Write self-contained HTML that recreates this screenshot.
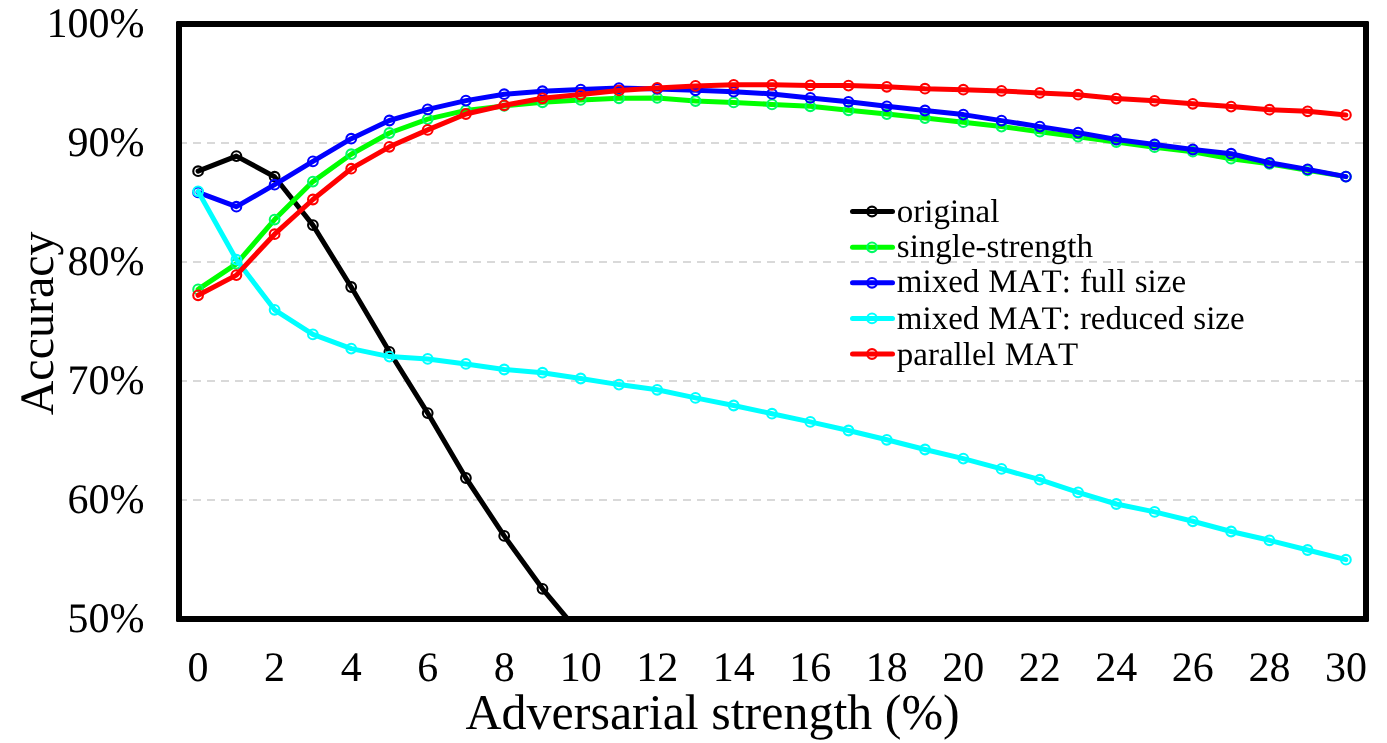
<!DOCTYPE html>
<html>
<head>
<meta charset="utf-8">
<title>Accuracy vs adversarial strength</title>
<style>
html,body{margin:0;padding:0;background:#ffffff;}
body{width:1387px;height:743px;overflow:hidden;font-family:"Liberation Serif",serif;}
svg{display:block;will-change:transform;}
text{font-family:"Liberation Serif",serif;fill:#000;font-kerning:none;font-variant-ligatures:none;text-rendering:geometricPrecision;}
.tick{font-size:42px;}
.leg{font-size:33px;word-spacing:0.8px;}
</style>
</head>
<body>
<svg width="1387" height="743" viewBox="0 0 1387 743">
<rect x="0" y="0" width="1387" height="743" fill="#ffffff"/>
<defs><clipPath id="plot"><rect x="179" y="24" width="1187" height="595"/></clipPath></defs>

<g stroke="#D9D9D9" stroke-width="2" stroke-dasharray="8 6" fill="none">
<line x1="179.0" y1="143.0" x2="1366.0" y2="143.0"/>
<line x1="179.0" y1="262.0" x2="1366.0" y2="262.0"/>
<line x1="179.0" y1="381.0" x2="1366.0" y2="381.0"/>
<line x1="179.0" y1="500.0" x2="1366.0" y2="500.0"/>
</g>
<g clip-path="url(#plot)" fill="none" stroke-linejoin="round" stroke-linecap="round">
<polyline points="198.1,171.2 236.4,156.1 274.6,176.7 312.9,225.1 351.2,287.0 389.4,351.8 427.7,413.1 465.9,478.0 504.2,535.9 542.5,588.8 580.7,634.5 619.0,688.0 657.2,738.0 695.5,785.6 733.7,833.2" stroke="#000000" stroke-width="5.0"/>
<g stroke="#000000" stroke-width="2.1">
<circle cx="198.1" cy="171.2" r="4.85"/>
<circle cx="236.4" cy="156.1" r="4.85"/>
<circle cx="274.6" cy="176.7" r="4.85"/>
<circle cx="312.9" cy="225.1" r="4.85"/>
<circle cx="351.2" cy="287.0" r="4.85"/>
<circle cx="389.4" cy="351.8" r="4.85"/>
<circle cx="427.7" cy="413.1" r="4.85"/>
<circle cx="465.9" cy="478.0" r="4.85"/>
<circle cx="504.2" cy="535.9" r="4.85"/>
<circle cx="542.5" cy="588.8" r="4.85"/>
</g>
<polyline points="198.1,289.4 236.4,263.8 274.6,219.6 312.9,181.6 351.2,154.2 389.4,133.0 427.7,119.1 465.9,110.4 504.2,105.9 542.5,102.3 580.7,99.9 619.0,98.3 657.2,97.9 695.5,101.0 733.7,102.4 772.0,104.4 810.3,106.3 848.5,110.3 886.8,114.1 925.0,118.1 963.3,122.2 1001.5,126.6 1039.8,131.7 1078.1,136.7 1116.3,142.0 1154.6,147.2 1192.8,151.7 1231.1,158.7 1269.4,163.8 1307.6,170.3 1345.9,176.6" stroke="#00FF00" stroke-width="5.0"/>
<g stroke="#00FA64" stroke-width="2.1">
<circle cx="198.1" cy="289.4" r="4.85"/>
<circle cx="236.4" cy="263.8" r="4.85"/>
<circle cx="274.6" cy="219.6" r="4.85"/>
<circle cx="312.9" cy="181.6" r="4.85"/>
<circle cx="351.2" cy="154.2" r="4.85"/>
<circle cx="389.4" cy="133.0" r="4.85"/>
<circle cx="427.7" cy="119.1" r="4.85"/>
<circle cx="465.9" cy="110.4" r="4.85"/>
<circle cx="504.2" cy="105.9" r="4.85"/>
<circle cx="542.5" cy="102.3" r="4.85"/>
<circle cx="580.7" cy="99.9" r="4.85"/>
<circle cx="619.0" cy="98.3" r="4.85"/>
<circle cx="657.2" cy="97.9" r="4.85"/>
<circle cx="695.5" cy="101.0" r="4.85"/>
<circle cx="733.7" cy="102.4" r="4.85"/>
<circle cx="772.0" cy="104.4" r="4.85"/>
<circle cx="810.3" cy="106.3" r="4.85"/>
<circle cx="848.5" cy="110.3" r="4.85"/>
<circle cx="886.8" cy="114.1" r="4.85"/>
<circle cx="925.0" cy="118.1" r="4.85"/>
<circle cx="963.3" cy="122.2" r="4.85"/>
<circle cx="1001.5" cy="126.6" r="4.85"/>
<circle cx="1039.8" cy="131.7" r="4.85"/>
<circle cx="1078.1" cy="136.7" r="4.85"/>
<circle cx="1116.3" cy="142.0" r="4.85"/>
<circle cx="1154.6" cy="147.2" r="4.85"/>
<circle cx="1192.8" cy="151.7" r="4.85"/>
<circle cx="1231.1" cy="158.7" r="4.85"/>
<circle cx="1269.4" cy="163.8" r="4.85"/>
<circle cx="1307.6" cy="170.3" r="4.85"/>
<circle cx="1345.9" cy="176.6" r="4.85"/>
</g>
<polyline points="198.1,192.4 236.4,206.7 274.6,184.7 312.9,161.4 351.2,138.7 389.4,120.5 427.7,109.4 465.9,100.6 504.2,94.2 542.5,91.2 580.7,89.6 619.0,88.1 657.2,88.9 695.5,90.3 733.7,91.7 772.0,93.9 810.3,97.9 848.5,101.8 886.8,106.3 925.0,110.5 963.3,114.6 1001.5,120.6 1039.8,126.6 1078.1,132.6 1116.3,139.5 1154.6,144.5 1192.8,149.5 1231.1,153.7 1269.4,162.8 1307.6,169.4 1345.9,176.6" stroke="#0000FF" stroke-width="5.0"/>
<g stroke="#0000FF" stroke-width="2.1">
<circle cx="198.1" cy="192.4" r="4.85"/>
<circle cx="236.4" cy="206.7" r="4.85"/>
<circle cx="274.6" cy="184.7" r="4.85"/>
<circle cx="312.9" cy="161.4" r="4.85"/>
<circle cx="351.2" cy="138.7" r="4.85"/>
<circle cx="389.4" cy="120.5" r="4.85"/>
<circle cx="427.7" cy="109.4" r="4.85"/>
<circle cx="465.9" cy="100.6" r="4.85"/>
<circle cx="504.2" cy="94.2" r="4.85"/>
<circle cx="542.5" cy="91.2" r="4.85"/>
<circle cx="580.7" cy="89.6" r="4.85"/>
<circle cx="619.0" cy="88.1" r="4.85"/>
<circle cx="657.2" cy="88.9" r="4.85"/>
<circle cx="695.5" cy="90.3" r="4.85"/>
<circle cx="733.7" cy="91.7" r="4.85"/>
<circle cx="772.0" cy="93.9" r="4.85"/>
<circle cx="810.3" cy="97.9" r="4.85"/>
<circle cx="848.5" cy="101.8" r="4.85"/>
<circle cx="886.8" cy="106.3" r="4.85"/>
<circle cx="925.0" cy="110.5" r="4.85"/>
<circle cx="963.3" cy="114.6" r="4.85"/>
<circle cx="1001.5" cy="120.6" r="4.85"/>
<circle cx="1039.8" cy="126.6" r="4.85"/>
<circle cx="1078.1" cy="132.6" r="4.85"/>
<circle cx="1116.3" cy="139.5" r="4.85"/>
<circle cx="1154.6" cy="144.5" r="4.85"/>
<circle cx="1192.8" cy="149.5" r="4.85"/>
<circle cx="1231.1" cy="153.7" r="4.85"/>
<circle cx="1269.4" cy="162.8" r="4.85"/>
<circle cx="1307.6" cy="169.4" r="4.85"/>
<circle cx="1345.9" cy="176.6" r="4.85"/>
</g>
<polyline points="198.1,191.4 236.4,259.7 274.6,309.8 312.9,334.4 351.2,348.6 389.4,356.6 427.7,358.9 465.9,363.9 504.2,369.5 542.5,372.7 580.7,378.5 619.0,384.6 657.2,389.8 695.5,397.9 733.7,405.5 772.0,413.7 810.3,421.9 848.5,430.5 886.8,439.8 925.0,449.5 963.3,458.6 1001.5,468.9 1039.8,479.7 1078.1,492.4 1116.3,504.0 1154.6,511.9 1192.8,521.3 1231.1,531.5 1269.4,540.3 1307.6,550.0 1345.9,559.7" stroke="#00FFFF" stroke-width="5.0"/>
<g stroke="#00FFFF" stroke-width="2.1">
<circle cx="198.1" cy="191.4" r="4.85"/>
<circle cx="236.4" cy="259.7" r="4.85"/>
<circle cx="274.6" cy="309.8" r="4.85"/>
<circle cx="312.9" cy="334.4" r="4.85"/>
<circle cx="351.2" cy="348.6" r="4.85"/>
<circle cx="389.4" cy="356.6" r="4.85"/>
<circle cx="427.7" cy="358.9" r="4.85"/>
<circle cx="465.9" cy="363.9" r="4.85"/>
<circle cx="504.2" cy="369.5" r="4.85"/>
<circle cx="542.5" cy="372.7" r="4.85"/>
<circle cx="580.7" cy="378.5" r="4.85"/>
<circle cx="619.0" cy="384.6" r="4.85"/>
<circle cx="657.2" cy="389.8" r="4.85"/>
<circle cx="695.5" cy="397.9" r="4.85"/>
<circle cx="733.7" cy="405.5" r="4.85"/>
<circle cx="772.0" cy="413.7" r="4.85"/>
<circle cx="810.3" cy="421.9" r="4.85"/>
<circle cx="848.5" cy="430.5" r="4.85"/>
<circle cx="886.8" cy="439.8" r="4.85"/>
<circle cx="925.0" cy="449.5" r="4.85"/>
<circle cx="963.3" cy="458.6" r="4.85"/>
<circle cx="1001.5" cy="468.9" r="4.85"/>
<circle cx="1039.8" cy="479.7" r="4.85"/>
<circle cx="1078.1" cy="492.4" r="4.85"/>
<circle cx="1116.3" cy="504.0" r="4.85"/>
<circle cx="1154.6" cy="511.9" r="4.85"/>
<circle cx="1192.8" cy="521.3" r="4.85"/>
<circle cx="1231.1" cy="531.5" r="4.85"/>
<circle cx="1269.4" cy="540.3" r="4.85"/>
<circle cx="1307.6" cy="550.0" r="4.85"/>
<circle cx="1345.9" cy="559.7" r="4.85"/>
</g>
<polyline points="198.1,295.3 236.4,275.1 274.6,234.2 312.9,199.5 351.2,168.7 389.4,146.8 427.7,129.9 465.9,114.0 504.2,105.3 542.5,98.3 580.7,94.6 619.0,90.4 657.2,87.9 695.5,85.9 733.7,84.8 772.0,84.8 810.3,85.4 848.5,85.6 886.8,86.8 925.0,88.7 963.3,89.7 1001.5,90.9 1039.8,92.9 1078.1,94.7 1116.3,98.6 1154.6,100.8 1192.8,103.8 1231.1,106.6 1269.4,109.7 1307.6,111.3 1345.9,114.9" stroke="#FF0000" stroke-width="5.0"/>
<g stroke="#FF0000" stroke-width="2.1">
<circle cx="198.1" cy="295.3" r="4.85"/>
<circle cx="236.4" cy="275.1" r="4.85"/>
<circle cx="274.6" cy="234.2" r="4.85"/>
<circle cx="312.9" cy="199.5" r="4.85"/>
<circle cx="351.2" cy="168.7" r="4.85"/>
<circle cx="389.4" cy="146.8" r="4.85"/>
<circle cx="427.7" cy="129.9" r="4.85"/>
<circle cx="465.9" cy="114.0" r="4.85"/>
<circle cx="504.2" cy="105.3" r="4.85"/>
<circle cx="542.5" cy="98.3" r="4.85"/>
<circle cx="580.7" cy="94.6" r="4.85"/>
<circle cx="619.0" cy="90.4" r="4.85"/>
<circle cx="657.2" cy="87.9" r="4.85"/>
<circle cx="695.5" cy="85.9" r="4.85"/>
<circle cx="733.7" cy="84.8" r="4.85"/>
<circle cx="772.0" cy="84.8" r="4.85"/>
<circle cx="810.3" cy="85.4" r="4.85"/>
<circle cx="848.5" cy="85.6" r="4.85"/>
<circle cx="886.8" cy="86.8" r="4.85"/>
<circle cx="925.0" cy="88.7" r="4.85"/>
<circle cx="963.3" cy="89.7" r="4.85"/>
<circle cx="1001.5" cy="90.9" r="4.85"/>
<circle cx="1039.8" cy="92.9" r="4.85"/>
<circle cx="1078.1" cy="94.7" r="4.85"/>
<circle cx="1116.3" cy="98.6" r="4.85"/>
<circle cx="1154.6" cy="100.8" r="4.85"/>
<circle cx="1192.8" cy="103.8" r="4.85"/>
<circle cx="1231.1" cy="106.6" r="4.85"/>
<circle cx="1269.4" cy="109.7" r="4.85"/>
<circle cx="1307.6" cy="111.3" r="4.85"/>
<circle cx="1345.9" cy="114.9" r="4.85"/>
</g>
</g>
<path fill="#000" fill-rule="evenodd" d="M177.3 21H1367.7Q1369 21 1369 22.3V620.7Q1369 622 1367.7 622H177.3Q176 622 176 620.7V22.3Q176 21 177.3 21ZM182 27V616H1363V27Z"/>
<text class="tick" x="144.5" y="37.2" text-anchor="end">100%</text>
<text class="tick" x="144.5" y="156.2" text-anchor="end">90%</text>
<text class="tick" x="144.5" y="275.2" text-anchor="end">80%</text>
<text class="tick" x="144.5" y="394.2" text-anchor="end">70%</text>
<text class="tick" x="144.5" y="513.2" text-anchor="end">60%</text>
<text class="tick" x="144.5" y="632.2" text-anchor="end">50%</text>
<text class="tick" x="198.1" y="680.8" text-anchor="middle">0</text>
<text class="tick" x="274.6" y="680.8" text-anchor="middle">2</text>
<text class="tick" x="351.2" y="680.8" text-anchor="middle">4</text>
<text class="tick" x="427.7" y="680.8" text-anchor="middle">6</text>
<text class="tick" x="504.2" y="680.8" text-anchor="middle">8</text>
<text class="tick" x="580.7" y="680.8" text-anchor="middle">10</text>
<text class="tick" x="657.2" y="680.8" text-anchor="middle">12</text>
<text class="tick" x="733.7" y="680.8" text-anchor="middle">14</text>
<text class="tick" x="810.3" y="680.8" text-anchor="middle">16</text>
<text class="tick" x="886.8" y="680.8" text-anchor="middle">18</text>
<text class="tick" x="963.3" y="680.8" text-anchor="middle">20</text>
<text class="tick" x="1039.8" y="680.8" text-anchor="middle">22</text>
<text class="tick" x="1116.3" y="680.8" text-anchor="middle">24</text>
<text class="tick" x="1192.8" y="680.8" text-anchor="middle">26</text>
<text class="tick" x="1269.4" y="680.8" text-anchor="middle">28</text>
<text class="tick" x="1345.9" y="680.8" text-anchor="middle">30</text>
<text x="465.5" y="728.8" font-size="50">Adversarial strength (%)</text>
<text transform="translate(52.8,415.3) rotate(-90)" font-size="48">Accuracy</text>
<line x1="852.5" y1="211.5" x2="892.5" y2="211.5" stroke="#000000" stroke-width="5.0" stroke-linecap="round"/>
<circle cx="872" cy="211.5" r="4.85" fill="none" stroke="#000000" stroke-width="2.1"/>
<text class="leg" x="896.8" y="222.0">original</text>
<line x1="852.5" y1="247.3" x2="892.5" y2="247.3" stroke="#00FF00" stroke-width="5.0" stroke-linecap="round"/>
<circle cx="872" cy="247.3" r="4.85" fill="none" stroke="#00FA64" stroke-width="2.1"/>
<text class="leg" x="896.8" y="257.3">single-strength</text>
<line x1="852.5" y1="282.8" x2="892.5" y2="282.8" stroke="#0000FF" stroke-width="5.0" stroke-linecap="round"/>
<circle cx="872" cy="282.8" r="4.85" fill="none" stroke="#0000FF" stroke-width="2.1"/>
<text class="leg" x="896.8" y="292.4">mixed MAT: full size</text>
<line x1="852.5" y1="318.4" x2="892.5" y2="318.4" stroke="#00FFFF" stroke-width="5.0" stroke-linecap="round"/>
<circle cx="872" cy="318.4" r="4.85" fill="none" stroke="#00FFFF" stroke-width="2.1"/>
<text class="leg" x="896.8" y="328.7">mixed MAT: reduced size</text>
<line x1="852.5" y1="354.0" x2="892.5" y2="354.0" stroke="#FF0000" stroke-width="5.0" stroke-linecap="round"/>
<circle cx="872" cy="354.0" r="4.85" fill="none" stroke="#FF0000" stroke-width="2.1"/>
<text class="leg" x="896.8" y="365.0">parallel MAT</text>
</svg>
</body>
</html>
